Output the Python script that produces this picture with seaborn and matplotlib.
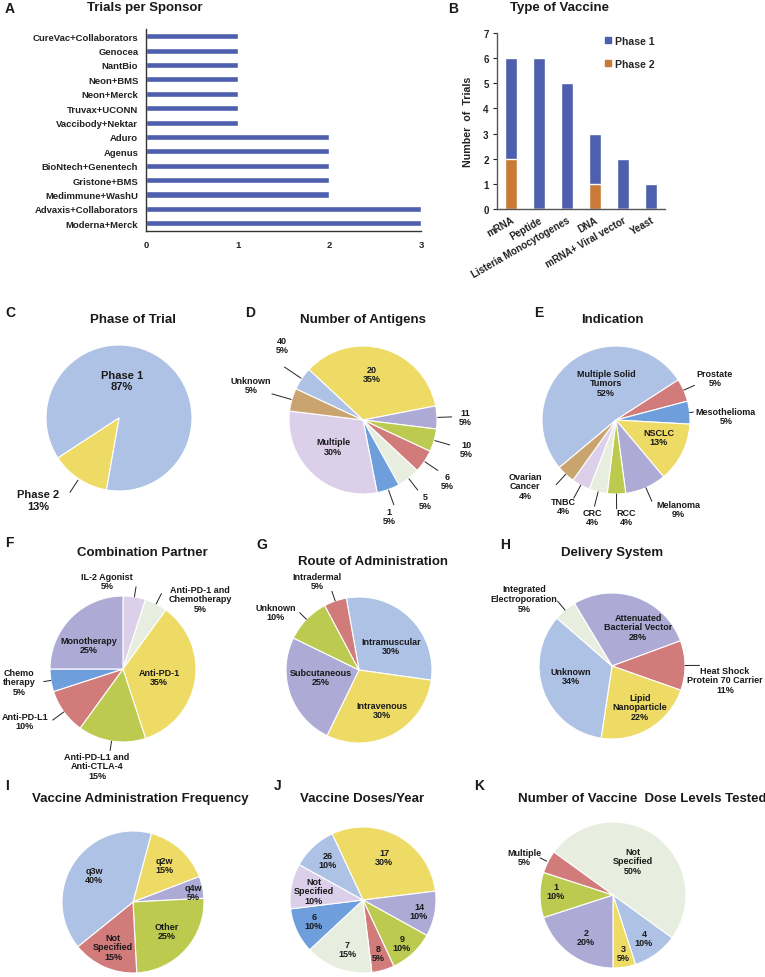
import numpy as np
import matplotlib
matplotlib.use('Agg')
import matplotlib.pyplot as plt
from matplotlib.patches import Patch
import seaborn as sns

sns.set_theme(style='white')
plt.rcParams['font.family'] = ['Liberation Sans', 'DejaVu Sans']
plt.rcParams['font.weight'] = 'bold'

W, H = 765, 978

# ---- data ----
# A: trials per sponsor
sponsors = ['CureVac+Collaborators', 'Genocea', 'NantBio', 'Neon+BMS', 'Neon+Merck',
            'Truvax+UCONN', 'Vaccibody+Nektar', 'Aduro', 'Agenus', 'BioNtech+Genentech',
            'Gristone+BMS', 'Medimmune+WashU', 'Advaxis+Collaborators', 'Moderna+Merck']
sponsor_trials = [1, 1, 1, 1, 1, 1, 1, 2, 2, 2, 2, 2, 3, 3]

# B: type of vaccine
vaccine_types = ['mRNA', 'Peptide', 'Listeria Monocytogenes', 'DNA', 'mRNA+ Viral vector', 'Yeast']
phase1_trials = [4, 6, 5, 2, 2, 1]
phase2_trials = [2, 0, 0, 1, 0, 0]

# C: phase of trial
phase_names = ['Phase 1', 'Phase 2']
phase_pct = [87, 13]

# D: number of antigens
antigen_names = ['20', '11', '10', '6', '5', '1', 'Multiple', 'Unknown', '40']
antigen_pct = [35, 5, 5, 5, 5, 5, 30, 5, 5]

# E: indication
indication_names = ['Multiple Solid\nTumors', 'Prostate', 'Mesothelioma', 'NSCLC', 'Melanoma',
                    'RCC', 'CRC', 'TNBC', 'Ovarian\nCancer']
indication_pct = [52, 5, 5, 13, 9, 4, 4, 4, 4]

# F: combination partner
partner_names = ['IL-2 Agonist', 'Anti-PD-1 and\nChemotherapy', 'Anti-PD-1',
                 'Anti-PD-L1 and\nAnti-CTLA-4', 'Anti-PD-L1', 'Chemo\ntherapy', 'Monotherapy']
partner_pct = [5, 5, 35, 15, 10, 5, 25]

# G: route of administration
route_names = ['Intramuscular', 'Intravenous', 'Subcutaneous', 'Unknown', 'Intradermal']
route_pct = [30, 30, 25, 10, 5]

# H: delivery system
delivery_names = ['Attenuated\nBacterial Vector', 'Heat Shock\nProtein 70 Carrier',
                  'Lipid\nNanoparticle', 'Unknown', 'Integrated\nElectroporation']
delivery_pct = [28, 11, 22, 34, 5]

# I: administration frequency
freq_names = ['q2w', 'q4w', 'Other', 'Not\nSpecified', 'q3w']
freq_pct = [15, 5, 25, 15, 40]

# J: doses per year
doses_names = ['17', '14', '9', '8', '7', '6', 'Not\nSpecified', '26']
doses_pct = [30, 10, 10, 5, 15, 10, 10, 10]

# K: dose levels tested
levels_names = ['Not\nSpecified', '4', '3', '2', '1', 'Multiple']
levels_pct = [50, 10, 5, 20, 10, 5]

# ---- colours ----
BAR_BLUE = '#4e5fad'
ORANGE = '#c87a36'
LB = '#aec2e5'
YE = '#eedb66'
LV = '#aeaad6'
GR = '#bccb4f'
SA = '#d17b7b'
PA = '#e8eedf'
BL = '#6e9fdc'
LI = '#dccfea'
TA = '#c9a46f'

fig = plt.figure(figsize=(W / 100, H / 100), dpi=100)


def px_axes(left, top, right, bottom):
    return fig.add_axes([left / W, 1 - bottom / H, (right - left) / W, (bottom - top) / H])


# ---- A ----
axA = px_axes(146, 30, 421, 231.5)
sns.barplot(x=sponsor_trials, y=sponsors, orient='h', color=BAR_BLUE, saturation=1,
            width=0.42, ax=axA)
axA.set_xlim(0, 3)
axA.set_xticks([0, 1, 2, 3])
axA.set_xlabel('')
axA.set_ylabel('')
axA.tick_params(axis='both', length=0, labelsize=6.8, colors='#222222')
axA.tick_params(axis='x', pad=7)
axA.tick_params(axis='y', pad=5.5)
sns.despine(ax=axA)
for s in ['left', 'bottom']:
    axA.spines[s].set_color('#333333')
    axA.spines[s].set_linewidth(1)

# ---- B ----
axB = px_axes(497, 34, 665, 210)
totals = [a + b for a, b in zip(phase1_trials, phase2_trials)]
sns.barplot(x=vaccine_types, y=totals, color=BAR_BLUE, saturation=1, width=0.42, ax=axB)
sns.barplot(x=vaccine_types, y=phase2_trials, color=ORANGE, saturation=1, width=0.42, ax=axB)
axB.set_ylim(0, 7)
axB.set_xlim(-0.5, 5.5)
axB.set_yticks(range(8))
axB.set_xticks(range(len(vaccine_types)))
axB.set_xticklabels(vaccine_types, rotation=30, ha='right', rotation_mode='anchor')
axB.tick_params(axis='x', length=0, labelsize=7, pad=4, colors='#222222')
axB.tick_params(axis='y', length=3, width=0.8, labelsize=7, pad=3, left=True, colors='#222222')
axB.set_xlabel('')
axB.set_ylabel('Number  of  Trials', fontsize=7.7, fontweight='bold', color='#222222')
axB.yaxis.set_label_coords(-0.143, 0.5)
sns.despine(ax=axB)
for s in ['left', 'bottom']:
    axB.spines[s].set_color('#555555')
    axB.spines[s].set_linewidth(1)
axB.legend(handles=[Patch(color=BAR_BLUE, label='Phase 1'), Patch(color=ORANGE, label='Phase 2')],
           loc='upper left', bbox_to_anchor=(0.64, 0.985), frameon=False, fontsize=7.6,
           handlelength=0.6, handleheight=0.6, handletextpad=0.4, labelspacing=1.25,
           borderpad=0, borderaxespad=0)

# ---- pies: one overlay axes in pixel units ----
ax = fig.add_axes([0, 0, 1, 1])

pies = [
    dict(names=phase_names, pct=phase_pct, colors=[LB, YE], c=(119, 419), r=73,
         start=260, ccw=True, fs=8, ls=1.2,
         pos=[(122, 381.5), (38, 501)], leaders={1: (1.02, 1.22)}),
    dict(names=antigen_names, pct=antigen_pct, colors=[YE, LV, GR, SA, PA, BL, LI, TA, LB],
         c=(363, 421), r=74, start=137,
         pos=[(372, 375), (465, 418), (466, 450), (447, 482), (425, 502), (389, 517),
              (333, 447.5), (251, 386), (282, 346)],
         leaders={1: (1.01, 1.2), 2: (1.01, 1.22), 3: (1.01, 1.22), 4: (1.01, 1.2),
                  5: (1.01, 1.22), 7: (1.01, 1.28), 8: (1.01, 1.28)}),
    dict(names=indication_names, pct=indication_pct, colors=[LB, SA, BL, YE, LV, GR, PA, LI, TA],
         c=(616, 421), r=74, start=220,
         pos=[(606, 384), (715, 379), (726, 417), (659, 438), (678, 510), (626, 518),
              (592, 518), (563, 507), (525, 487)],
         leaders={1: (1.0, 1.16), 2: (1.0, 1.05), 4: (1.0, 1.2), 5: (1.0, 1.2),
                  6: (1.0, 1.2), 7: (1.0, 1.2), 8: (1.0, 1.19)}),
    dict(names=partner_names, pct=partner_pct, colors=[LI, PA, YE, GR, SA, BL, LV],
         c=(123, 670), r=73, start=90,
         pos=[(107, 582), (200, 600), (159, 678), (97, 767), (25, 722), (19, 683), (89, 646)],
         leaders={0: (1.0, 1.14), 1: (1.0, 1.16), 3: (1.0, 1.13), 4: (1.0, 1.19), 5: (1.0, 1.1)}),
    dict(names=route_names, pct=route_pct, colors=[LB, YE, LV, GR, SA],
         c=(359, 671), r=73, start=100,
         pos=[(391, 647), (382, 711), (321, 678), (276, 613), (317, 582)],
         leaders={3: (1.0, 1.13), 4: (1.0, 1.14)}),
    dict(names=delivery_names, pct=delivery_pct, colors=[LV, SA, YE, LB, PA],
         c=(612, 667), r=73, start=121,
         pos=[(638, 628), (725, 681), (640, 708), (571, 677), (524, 599.5)],
         leaders={1: (1.0, 1.2), 4: (1.0, 1.16)}),
    dict(names=freq_names, pct=freq_pct, colors=[YE, LV, GR, SA, LB],
         c=(133, 903), r=71, start=75,
         pos=[(164, 866), (193, 893), (167, 932), (113, 948), (94, 876)], leaders={}),
    dict(names=doses_names, pct=doses_pct, colors=[YE, LV, GR, SA, PA, BL, LI, LB],
         c=(363, 901), r=73, start=115,
         pos=[(384, 858), (419, 912), (402, 944), (378, 954), (347, 950), (314, 922),
              (314, 892), (328, 861)], leaders={}),
    dict(names=levels_names, pct=levels_pct, colors=[PA, LB, YE, LV, GR, SA],
         c=(613, 896), r=73, start=144,
         pos=[(633, 862), (644, 939), (623, 954), (586, 938), (556, 892), (524, 858)],
         leaders={5: (1.02, 1.12)}),
]

for p in pies:
    cx, cy = p['c'][0], H - p['c'][1]
    r = p['r']
    wedges, _ = ax.pie(p['pct'], colors=p['colors'], startangle=p['start'],
                       counterclock=p.get('ccw', False), center=(cx, cy), radius=r,
                       wedgeprops=dict(edgecolor='white', linewidth=0.8))
    for i, (w, name, pc) in enumerate(zip(wedges, p['names'], p['pct'])):
        x, y = p['pos'][i]
        ax.text(x, H - y, f'{name}\n{pc}%', ha='center', va='center', multialignment='center',
                fontsize=p.get('fs', 6.5), fontweight='bold', color='#1a1a1a',
                linespacing=p.get('ls', 1.1), zorder=5)
        if i in p['leaders']:
            k0, k1 = p['leaders'][i]
            mid = np.deg2rad((w.theta1 + w.theta2) / 2)
            ax.plot([cx + k0 * r * np.cos(mid), cx + k1 * r * np.cos(mid)],
                    [cy + k0 * r * np.sin(mid), cy + k1 * r * np.sin(mid)],
                    color='#222222', lw=0.7, zorder=4)

titles = [('Trials per Sponsor', 145, 8), ('Type of Vaccine', 560, 8),
          ('Phase of Trial', 133, 320), ('Number of Antigens', 363, 320),
          ('Indication', 612, 320), ('Combination Partner', 142, 553),
          ('Route of Administration', 373, 562), ('Delivery System', 612, 553),
          ('Vaccine Administration Frequency', 140, 799), ('Vaccine Doses/Year', 362, 799),
          ('Number of Vaccine  Dose Levels Tested', 642, 799)]
for t, x, y in titles:
    ax.text(x, H - y, t, ha='center', va='center', fontsize=9.5, fontweight='bold', color='#1a1a1a')

letters = [('A', 10, 9), ('B', 453, 9), ('C', 10, 313), ('D', 250, 313), ('E', 539, 313),
           ('F', 9, 543), ('G', 262, 545), ('H', 505, 545), ('I', 7, 786), ('J', 278, 786),
           ('K', 479, 786)]
for t, x, y in letters:
    ax.text(x, H - y, t, ha='center', va='center', fontsize=10, fontweight='bold', color='#1a1a1a')

ax.set_xlim(0, W)
ax.set_ylim(0, H)
ax.set_aspect('auto')
ax.set_axis_off()

fig.savefig('out.png', dpi=100)
